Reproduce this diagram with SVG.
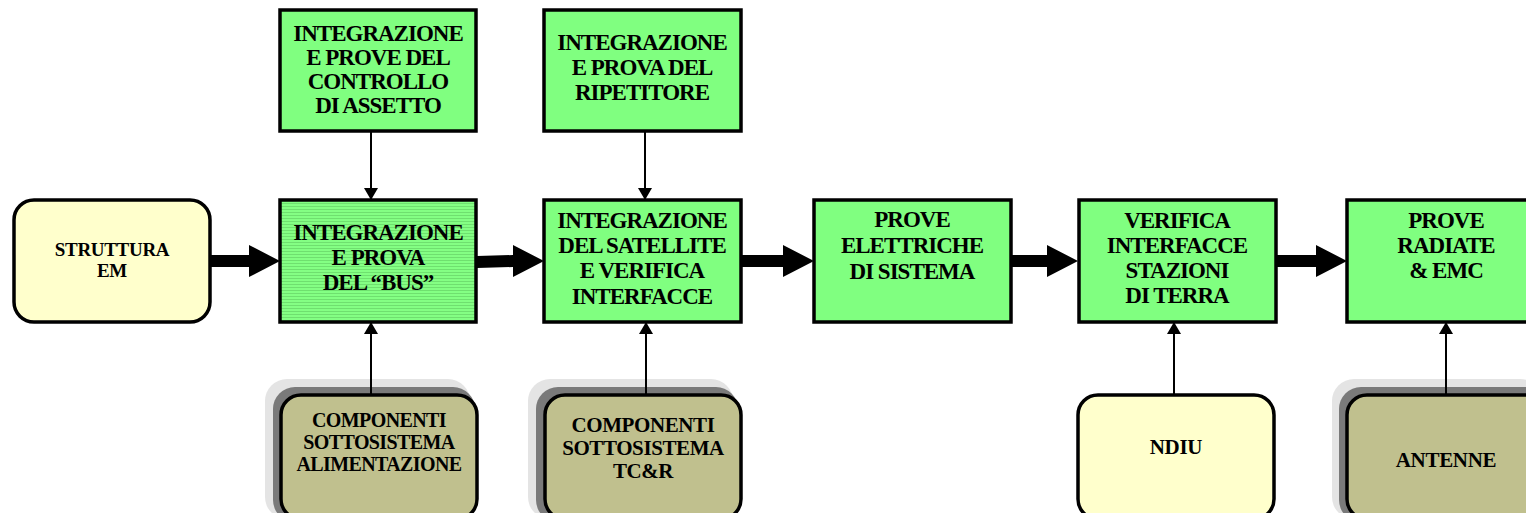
<svg xmlns="http://www.w3.org/2000/svg" width="1526" height="513" viewBox="0 0 1526 513">
<defs>
<pattern id="stripes" width="4" height="3" patternUnits="userSpaceOnUse">
<rect width="4" height="3" fill="#84FF84"/>
<rect y="2" width="4" height="1" fill="#6FE06F"/>
</pattern>
<marker id="ah" viewBox="0 0 12 14" refX="12" refY="7" markerWidth="12" markerHeight="14" markerUnits="userSpaceOnUse" orient="auto">
<path d="M0,0 L12,7 L0,14 Z" fill="#000"/>
</marker>
</defs>
<style>
.g{fill:#80FF80;stroke:#000;stroke-width:3.5}
.y{fill:#FFFFCC;stroke:#000;stroke-width:3.5}
.o{fill:#C0C08E;stroke:#000;stroke-width:3.5}
.s1{fill:#E4E4E4}
.s2{fill:#7A7A7A}
text{font-family:"Liberation Serif","Times New Roman",serif;font-weight:bold;fill:#000;text-anchor:middle}
.t{font-size:23px;letter-spacing:-1px}
.ts{font-size:19px;letter-spacing:-0.3px}
.tn{font-size:21px;letter-spacing:-0.3px}
.tb{font-size:20px;letter-spacing:-0.6px}
.tc{font-size:21px;letter-spacing:-0.4px}
.thin{stroke:#000;stroke-width:2;fill:none;marker-end:url(#ah)}
.thick{fill:#000}
</style>

<g id="top-assetto">
<rect class="g" x="280" y="10" width="196" height="121"/>
<text class="t" x="378" y="41">INTEGRAZIONE</text>
<text class="t" x="378" y="65">E PROVE DEL</text>
<text class="t" x="378" y="89">CONTROLLO</text>
<text class="t" x="378" y="113">DI ASSETTO</text>
</g>

<g id="top-ripetitore">
<rect class="g" x="544" y="10" width="197" height="121"/>
<text class="t" x="642" y="50">INTEGRAZIONE</text>
<text class="t" x="642" y="75">E PROVA DEL</text>
<text class="t" x="642" y="100">RIPETITORE</text>
</g>

<g id="struttura">
<rect class="y" x="14" y="200" width="196" height="122" rx="20"/>
<text class="ts" x="112" y="256">STRUTTURA</text>
<text class="ts" x="112" y="277">EM</text>
</g>

<g id="bus">
<rect x="280" y="200" width="196" height="122" fill="url(#stripes)" stroke="#000" stroke-width="3.5"/>
<text class="t" x="378" y="240">INTEGRAZIONE</text>
<text class="t" x="378" y="265">E PROVA</text>
<text class="t" x="378" y="290">DEL “BUS”</text>
</g>

<g id="satellite">
<rect class="g" x="544" y="200" width="197" height="122"/>
<text class="t" x="642" y="228">INTEGRAZIONE</text>
<text class="t" x="642" y="253">DEL SATELLITE</text>
<text class="t" x="642" y="278">E VERIFICA</text>
<text class="t" x="642" y="304">INTERFACCE</text>
</g>

<g id="elettriche">
<rect class="g" x="814" y="200" width="197" height="122"/>
<text class="t" x="912" y="227">PROVE</text>
<text class="t" x="912" y="253">ELETTRICHE</text>
<text class="t" x="912" y="279">DI SISTEMA</text>
</g>

<g id="verifica">
<rect class="g" x="1079" y="200" width="197" height="122"/>
<text class="t" x="1177" y="228">VERIFICA</text>
<text class="t" x="1177" y="253">INTERFACCE</text>
<text class="t" x="1177" y="278">STAZIONI</text>
<text class="t" x="1177" y="303">DI TERRA</text>
</g>

<g id="radiate">
<rect class="g" x="1347" y="200" width="197" height="122"/>
<text class="t" x="1446" y="228">PROVE</text>
<text class="t" x="1446" y="253">RADIATE</text>
<text class="t" x="1446" y="278">&amp; EMC</text>
</g>

<g id="alimentazione">
<rect class="s1" x="265" y="379" width="205" height="140" rx="22"/>
<rect class="s2" x="273" y="387" width="202" height="135" rx="22"/>
<rect class="o" x="281" y="395" width="196" height="124" rx="20"/>
<text class="tb" x="379" y="427">COMPONENTI</text>
<text class="tb" x="379" y="449">SOTTOSISTEMA</text>
<text class="tb" x="379" y="471">ALIMENTAZIONE</text>
</g>

<g id="tcr">
<rect class="s1" x="528" y="379" width="205" height="140" rx="22"/>
<rect class="s2" x="536" y="387" width="202" height="135" rx="22"/>
<rect class="o" x="545" y="395" width="196" height="124" rx="20"/>
<text class="tc" x="643" y="432">COMPONENTI</text>
<text class="tc" x="643" y="455">SOTTOSISTEMA</text>
<text class="tc" x="643" y="478">TC&amp;R</text>
</g>

<g id="ndiu">
<rect class="y" x="1078" y="395" width="196" height="124" rx="20"/>
<text class="tn" x="1176" y="454">NDIU</text>
</g>

<g id="antenne">
<rect class="s1" x="1332" y="379" width="210" height="140" rx="22"/>
<rect class="s2" x="1339" y="387" width="210" height="135" rx="22"/>
<rect class="o" x="1347" y="395" width="200" height="124" rx="20"/>
<text class="tn" x="1446" y="467">ANTENNE</text>
</g>

<g id="connectors">
<line class="thin" x1="371" y1="131" x2="371" y2="200"/>
<line class="thin" x1="645" y1="131" x2="645" y2="200"/>
<line class="thin" x1="371" y1="395" x2="371" y2="322"/>
<line class="thin" x1="646" y1="395" x2="646" y2="322"/>
<line class="thin" x1="1174" y1="395" x2="1174" y2="322"/>
<line class="thin" x1="1446" y1="395" x2="1446" y2="322"/>
<polygon class="thick" points="211,255 249,255 249,245 280,261 249,277 249,267 211,267"/>
<polygon class="thick" points="477,256 513,255 513,245 544,261 513,277 513,267 477,268"/>
<polygon class="thick" points="742,255 783,255 783,245 814,261 783,277 783,267 742,267"/>
<polygon class="thick" points="1012,255 1047,255 1047,245 1078,261 1047,277 1047,267 1012,267"/>
<polygon class="thick" points="1277,255 1316,255 1316,245 1347,261 1316,277 1316,267 1277,267"/>
</g>
</svg>
